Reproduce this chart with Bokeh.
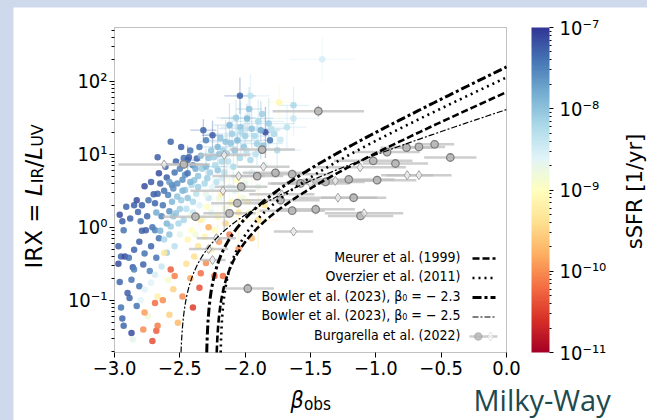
import numpy as np
from bokeh.plotting import figure
from bokeh.models import (ColumnDataSource, LogColorMapper, ColorBar, FixedTicker,
                          CustomJSTickFormatter, Label, Arrow, BoxAnnotation,
                          PolyAnnotation, Range1d)
from bokeh.layouts import column
from bokeh.embed import file_html
from bokeh.resources import INLINE

# ---------------- data ----------------
# colour-coded galaxies: beta_obs, log10 IRX, log10 sSFR
dark_beta = [-2.97, -2.96, -2.95, -2.94, -2.93, -2.92, -2.91, -2.90, -2.89, -2.93, -2.87, -2.885, -2.87, -2.86,
             -2.85, -2.85, -2.85, -2.83, -2.83, -2.82, -2.81, -2.81, -2.80, -2.79, -2.78, -2.77, -2.77, -2.76,
             -2.75, -2.74, -2.73, -2.72, -2.71, -2.70, -2.69, -2.69, -2.68, -2.67, -2.67, -2.66, -2.66, -2.65,
             -2.64, -2.63, -2.62, -2.61, -2.60, -2.59, -2.58, -2.57, -2.56, -2.55, -2.54, -2.53, -2.52, -2.50,
             -2.49, -2.48, -2.47, -2.46, -2.44, -2.44, -2.43, -2.42, -2.40, -2.37, -2.35, -2.32, -2.30, -2.25,
             -2.04, -1.81, -1.845, -2.96, -2.95, -2.97, -2.94, -2.88, -2.79, -2.72]
dark_logirx = [-0.26, 0.17, -0.40, 0.08, -0.04, -0.40, 0.28, -0.90, -0.42, -1.35, -1.45, -0.97, -0.72, -0.55,
               0.30, -0.31, -0.58, -1.08, 0.37, 0.21, -0.20, -0.81, 0.08, -0.05, -0.51, -0.36, 0.56, -0.04,
               0.15, 0.37, -0.60, -0.26, 0.00, 0.45, 0.33, -0.04, -0.42, 0.46, 0.96, 0.74, -0.15, 0.60,
               0.15, 0.30, 0.50, 0.83, 0.68, 0.44, 0.22, 1.17, 0.58, 0.53, 0.75, 0.90, 0.60, 0.80,
               1.10, 0.65, 0.95, 0.72, 0.92, 0.74, 0.96, 1.05, 0.85, 0.94, 1.10, 1.33, 1.19, 1.26,
               1.80, 1.19, 1.30, -0.75, -1.10, -0.50, -1.25, 0.12, 0.30, 0.62]
dark_logssfr = [-7.25, -7.15, -7.3, -7.25, -7.4, -7.15, -7.3, -7.25, -7.4, -7.3, -7.15, -7.3, -7.4, -7.25,
                -7.25, -7.3, -7.5, -7.4, -7.15, -7.3, -7.25, -7.4, -7.4, -7.3, -7.3, -7.4, -7.15, -7.25,
                -7.3, -7.4, -7.5, -7.3, -7.4, -7.25, -7.3, -7.5, -7.4, -7.3, -7.25, -7.15, -7.4, -7.3,
                -7.5, -7.4, -7.4, -7.3, -7.25, -7.5, -7.6, -7.3, -7.5, -7.6, -7.4, -7.3, -7.6, -7.5,
                -7.25, -7.6, -7.4, -7.6, -7.3, -7.4, -7.25, -7.4, -7.5, -7.3, -7.4, -7.3, -7.5, -7.25,
                -7.3, -7.4, -7.15, -7.3, -7.4, -7.15, -7.3, -7.25, -7.3, -7.25]

blue_beta = [-2.62, -2.57, -2.53, -2.49, -2.46, -2.41, -2.375, -2.54, -2.64, -2.60, -2.58, -2.51, -2.45, -2.40,
             -2.36, -2.33, -2.30, -2.28, -2.24, -2.21, -2.21, -2.18, -2.15, -2.14, -2.10, -2.09, -2.06, -2.035,
             -2.01, -1.985, -1.96, -1.96, -1.95, -1.91, -1.88, -1.82, -1.755, -1.68, -1.63, -1.63, -2.39, -2.29,
             -2.26, -2.12, -2.00, -1.92, -1.86, -1.78, -2.19, -2.08, -2.16, -2.04, -1.97, -2.07, -1.90, -1.73,
             -2.60, -2.56, -2.52, -2.50, -2.47, -2.44, -2.42, -2.38, -2.36, -2.34, -2.31, -2.27, -2.23, -2.20,
             -2.17, -2.13, -2.11, -2.03, -1.99, -1.93, -1.87, -1.80, -2.55, -2.65, -2.68, -2.58, -2.48, -2.40,
             -2.28, -2.22]
blue_logirx = [-0.17, 0.01, 0.19, 0.37, 0.51, 0.58, 0.46, -0.26, -0.54, -0.35, -0.10, 0.05, 0.25, 0.35,
               0.70, 0.80, 0.83, 0.95, 0.96, 0.78, 1.10, 0.90, 1.17, 1.01, 1.28, 0.83, 1.19, 1.37,
               1.10, 1.49, 0.92, 1.80, 1.35, 1.145, 1.33, 1.42, 1.055, 1.37, 1.49, 1.67, 0.645, 0.67,
               1.05, 1.40, 1.25, 1.00, 1.12, 1.28, 1.22, 1.05, 0.75, 0.95, 1.62, 1.50, 1.45, 1.20,
               0.05, 0.35, 0.42, 0.25, 0.10, 0.40, 0.62, 0.80, 0.55, 0.98, 0.60, 0.75, 0.85, 1.00,
               1.05, 0.90, 1.15, 1.30, 1.05, 1.25, 1.55, 1.35, 0.15, -0.05, 0.20, 0.62, 0.50, 0.20,
               0.40, 0.62]
blue_logssfr = [-8.2, -8.1, -8.0, -8.1, -8.0, -8.2, -8.3, -8.3, -8.4, -8.1, -8.0, -8.2, -8.3, -8.2,
                -8.0, -8.1, -7.9, -8.0, -8.1, -8.0, -7.9, -8.2, -8.0, -8.1, -8.1, -8.2, -7.9, -8.0,
                -8.0, -7.9, -8.2, -8.3, -8.0, -8.1, -7.8, -8.1, -8.2, -8.3, -8.4, -8.2, -8.0, -8.1,
                -8.0, -7.9, -8.1, -8.3, -8.0, -8.2, -8.0, -8.0, -8.3, -8.2, -8.0, -8.1, -8.2, -8.4,
                -7.9, -7.9, -8.0, -8.1, -8.2, -8.0, -7.9, -7.8, -8.1, -7.9, -8.2, -8.1, -8.2, -8.0,
                -8.1, -8.3, -8.0, -8.2, -8.3, -8.2, -8.1, -8.3, -8.0, -7.9, -7.8, -7.7, -7.9, -8.4,
                -8.4, -8.3]

pale_beta = [-2.72, -2.77, -2.86, -2.745, -2.80, -2.69, -2.18, -2.25, -2.30, -2.35, -2.20, -2.12, -2.05, -2.00,
             -1.95, -2.42, -2.10, -1.90, -1.85, -2.50, -2.32, -1.41, -2.26, -2.15, -2.08, -2.02, -2.38, -1.97]
pale_logirx = [-0.76, -0.855, -1.54, -1.22, -1.00, -0.65, 0.67, 0.55, 0.45, 0.30, 0.40, 0.55, 0.70, 0.60,
               0.75, 0.15, 0.35, 0.55, 0.85, -0.10, 0.12, 2.30, 0.20, 0.25, 0.50, 0.40, -0.10, 0.20]
pale_logssfr = [-8.6, -8.6, -8.7, -8.8, -8.6, -8.5, -8.5, -8.6, -8.7, -8.6, -8.8, -8.6, -8.5, -8.7,
                -8.6, -8.8, -8.9, -8.7, -8.6, -8.7, -8.8, -8.5, -8.7, -8.8, -8.6, -8.8, -8.8, -8.9]

cream_beta = [-2.59, -2.67, -2.62, -2.44, -2.41, -2.34, -2.36, -2.31, -2.39, -2.26, -2.235, -2.21, -2.29, -2.18,
              -2.11, -2.06, -1.74, -2.05, -1.98, -1.90, -1.85, -2.15, -2.45, -2.55]
cream_logirx = [-0.72, -0.95, -0.355, -0.17, -0.04, 0.10, -0.26, -0.13, -0.40, -0.31, -0.04, 0.145, 0.28, 0.46,
                0.33, 0.645, 1.71, 0.20, 0.35, 0.10, 0.30, 0.05, -0.50, -0.85]
cream_logssfr = [-8.9, -9.2, -9.3, -9.1, -9.0, -9.2, -9.3, -9.1, -9.4, -9.2, -9.0, -9.1, -9.0, -9.2,
                 -9.1, -9.0, -9.1, -9.3, -9.2, -9.4, -9.3, -9.5, -9.4, -9.5]

red_beta = [-2.57, -2.54, -2.63, -2.69, -2.68, -2.67, -2.71, -2.515, -2.35, -2.235, -2.17, -2.77, -2.58, -2.30,
            -2.48, -2.42, -2.78, -2.20, -2.12, -2.05, -2.28, -1.95, -2.40, -2.34]
red_logirx = [-0.58, -0.67, -1.00, -1.04, -1.42, -1.35, -1.56, -1.31, -0.83, -0.67, -0.67, -1.17, -1.20, -0.49,
              -0.95, -0.70, -1.40, -0.20, -0.10, -0.30, 0.00, -0.15, -1.10, -0.63]
red_logssfr = [-10.3, -10.1, -10.0, -10.2, -10.3, -10.1, -10.4, -9.7, -10.4, -10.3, -10.2, -9.9, -9.5, -10.0,
               -10.0, -9.8, -10.0, -9.9, -10.1, -10.0, -9.8, -9.7, -10.5, -10.2]

# error bars of the colour-coded galaxies
eb_beta = [-2.04, -1.96, -1.74, -1.63, -2.32, -2.25, -1.985, -2.035, -2.10, -1.95, -1.88, -1.82, -1.845, -1.68,
           -1.63, -2.15, -2.06, -1.91, -2.21, -1.755, -2.12, -1.97, -2.07, -1.90, -2.14, -2.00, -2.09, -2.18,
           -2.06, -2.12, -1.95, -2.25, -2.21, -2.05, -1.90, -2.35, -2.30, -2.44, -1.41]
eb_logirx = [1.80, 1.80, 1.71, 1.67, 1.33, 1.26, 1.49, 1.37, 1.28, 1.35, 1.33, 1.42, 1.30, 1.37,
             1.49, 1.17, 1.19, 1.145, 1.10, 1.055, 1.40, 1.62, 1.50, 1.45, 1.01, 1.25, 0.83, 0.67,
             0.645, 0.55, 0.75, 0.55, 0.145, 0.20, 0.10, 0.30, 0.83, 0.92, 2.30]
eb_dbeta = [0.12, 0.15, 0.10, 0.12, 0.10, 0.08, 0.20, 0.15, 0.20, 0.25, 0.15, 0.20, 0.04, 0.15,
            0.20, 0.20, 0.25, 0.20, 0.15, 0.18, 0.12, 0.10, 0.15, 0.20, 0.20, 0.25, 0.20, 0.20,
            0.18, 0.20, 0.22, 0.20, 0.15, 0.15, 0.15, 0.15, 0.15, 0.10, 0.25]
eb_dlog = [0.25, 0.30, 0.25, 0.25, 0.15, 0.20, 0.20, 0.35, 0.25, 0.30, 0.40, 0.35, 0.35, 0.30,
           0.25, 0.30, 0.35, 0.30, 0.30, 0.30, 0.30, 0.30, 0.25, 0.30, 0.30, 0.30, 0.30, 0.40,
           0.35, 0.40, 0.35, 0.40, 0.40, 0.40, 0.40, 0.30, 0.25, 0.20, 0.30]
eb_logssfr = [-7.3, -8.3, -9.1, -8.2, -7.3, -7.25, -7.9, -8.0, -8.1, -8.0, -7.8, -8.1, -7.15, -8.3,
              -8.4, -8.0, -7.9, -8.1, -7.9, -8.2, -7.9, -8.0, -8.1, -8.2, -8.1, -8.1, -8.2, -8.5,
              -9.0, -8.6, -8.6, -8.6, -9.1, -9.3, -9.4, -8.6, -7.9, -7.3, -8.5]

# Burgarella et al. (2022): circles and diamonds
gc_beta = [-1.768, -1.64, -1.908, -1.576, -1.46, -1.64, -1.73, -1.17, -1.117, -0.99, -1.207, -1.385, -1.02,
           -0.85, -0.43, -0.914, -0.55, -0.67, -0.765, -1.44, -1.87, -2.47, -2.06, -2.38, -2.12, -1.98, -2.03]
gc_logirx = [0.745, 0.727, 0.70, 0.60, 0.245, 0.226, 0.37, 0.404, 0.154, 0.645, 0.655, 0.62, 0.91,
             0.873, 0.955, 1.03, 1.136, 1.10, 1.09, 1.59, 1.064, 0.86, 0.33, 0.145, 0.19, -0.84, 0.555]
gc_dbeta = [0.25, 0.30, 0.20, 0.25, 0.30, 0.25, 0.30, 0.25, 0.25, 0.30, 0.35, 0.30, 0.30,
            0.25, 0.20, 0.25, 0.15, 0.20, 0.20, 0.35, 0.25, 0.15, 0.20, 0.25, 0.20, 0.20, 0.20]
gc_dlog = [0.06, 0.06, 0.05, 0.06, 0.07, 0.06, 0.06, 0.05, 0.06, 0.06, 0.05, 0.06, 0.05,
           0.05, 0.05, 0.05, 0.05, 0.05, 0.05, 0.08, 0.06, 0.06, 0.06, 0.06, 0.06, 0.07, 0.06]

gd_beta = [-0.76, -0.67, -1.29, -1.09, -1.63, -1.31, -1.12, -2.62, -2.16, -1.86, -2.17, -1.72, -2.05, -1.50,
           -2.28, -2.22, -2.25]
gd_logirx = [0.713, 0.713, 0.404, 0.19, -0.06, 0.635, 0.82, 0.86, 0.99, 0.83, 0.50, 0.45, 0.70, 0.60,
             -0.30, -0.15, -0.45]
gd_dbeta = [0.20, 0.25, 0.30, 0.30, 0.15, 0.30, 0.35, 0.35, 0.20, 0.20, 0.25, 0.25, 0.20, 0.30,
            0.15, 0.15, 0.10]
gd_dlog_lo = [0.05, 0.05, 0.05, 0.05, 0.05, 0.05, 0.05, 0.05, 1.05, 0.05, 0.05, 0.05, 0.05, 0.05,
              0.05, 0.05, 0.05]
gd_dlog_hi = [0.05, 0.05, 0.05, 0.05, 0.05, 0.05, 0.05, 0.05, 0.06, 0.05, 0.05, 0.05, 0.05, 0.05,
              0.05, 0.05, 0.05]

# IRX-beta relations: IRX = B * (10**(0.4*k*(beta - beta0)) - 1)
rel_names = ["Meurer et al. (1999)", "Overzier et al. (2011)",
             "Bowler et al. (2023), β₀ = − 2.3", "Bowler et al. (2023), β₀ = − 2.5"]
rel_beta0 = [-4.43 / 1.99, -4.54 / 2.07, -2.3, -2.5]
rel_k = [1.99, 2.07, 2.17, 1.43]
rel_B = [1.22, 1.75, 1.60, 1.58]

x_lo, x_hi = -3.0, 0.0
y_lo, y_hi = 0.0192, 545.0
x_ticks = [-3.0, -2.5, -2.0, -1.5, -1.0, -0.5, 0.0]
y_ticks = [0.1, 1.0, 10.0, 100.0]
cb_ticks = [1e-11, 1e-10, 1e-9, 1e-8, 1e-7]

# ---------------- geometry (page pixels) ----------------
PAGE_W, PAGE_H = 647, 420
X0, Y0 = 13, 7                    # white panel origin
PL, PR, PT, PB = 114, 506, 27, 352  # plotting box
W, H = PAGE_W - X0, PAGE_H - Y0

ppx = (PR - PL) / (x_hi - x_lo)
xr = Range1d(x_lo - (PL - X0) / ppx, x_hi + (PAGE_W - PR) / ppx)
Llo, Lhi = np.log10(y_lo), np.log10(y_hi)
ppy = (PB - PT) / (Lhi - Llo)
yr = Range1d(10 ** (Llo - (PAGE_H - PB) / ppy), 10 ** (Lhi + (PT - Y0) / ppy))

# ---------------- styles ----------------
FONT = "DejaVu Sans Condensed"
rdylbu = ["#a50026", "#d73027", "#f46d43", "#fdae61", "#fee090", "#ffffbf",
          "#e0f3f8", "#abd9e9", "#74add1", "#4575b4", "#313695"]


def interp_palette(cols, n=256):
    rgb = np.array([[int(c[i:i + 2], 16) for i in (1, 3, 5)] for c in cols], float)
    t = np.linspace(0, 1, len(cols))
    tt = np.linspace(0, 1, n)
    out = []
    for v in tt:
        r, g, b = (np.interp(v, t, rgb[:, j]) for j in range(3))
        out.append("#%02x%02x%02x" % (int(round(r)), int(round(g)), int(round(b))))
    return out


palette = interp_palette(rdylbu)
mapper = LogColorMapper(palette=palette, low=1e-11, high=1e-7)

p = figure(width=W, height=H, y_axis_type="log", x_range=xr, y_range=yr,
           output_backend="svg", toolbar_location=None, min_border=0,
           min_border_left=0, min_border_right=0, min_border_top=0, min_border_bottom=0)
p.margin = (Y0, 0, 0, X0)
p.title.visible = False
p.background_fill_color = "white"
p.border_fill_color = "white"
p.outline_line_color = None
p.grid.visible = False

log_fmt_code = """
const sup = {'-':'⁻','0':'⁰','1':'¹','2':'²','3':'³','4':'⁴','5':'⁵','6':'⁶','7':'⁷','8':'⁸','9':'⁹'};
const e = Math.round(Math.log10(tick));
return '10' + String(e).split('').map(c => sup[c]).join('');
"""

p.xaxis.fixed_location = y_lo
p.xaxis.bounds = (x_lo, x_hi)
p.yaxis.fixed_location = x_lo
p.yaxis.bounds = (y_lo, y_hi)
p.xaxis.ticker = FixedTicker(ticks=x_ticks)
p.xaxis.formatter = CustomJSTickFormatter(code="return tick.toFixed(1).replace('-', '\u2212');")
minor_y = [m * 10.0 ** e for e in range(-2, 3) for m in range(2, 10) if y_lo <= m * 10.0 ** e <= y_hi]
p.yaxis.ticker = FixedTicker(ticks=y_ticks, minor_ticks=minor_y)
p.yaxis.formatter = CustomJSTickFormatter(code=log_fmt_code)
for ax in (p.xaxis, p.yaxis):
    ax.axis_line_color = None
    ax.major_label_text_font = FONT
    ax.major_label_text_font_size = "20px"
    ax.major_label_text_color = "black"
    ax.major_tick_line_color = "black"
    ax.major_tick_in = 0
    ax.major_tick_out = 5
p.xaxis.minor_tick_line_color = None
p.xaxis.major_label_standoff = 3
p.yaxis.minor_tick_in = 0
p.yaxis.minor_tick_out = 3
p.yaxis.minor_tick_line_color = "black"
p.yaxis.major_label_standoff = 2

# ---- colour-coded galaxies ----
all_beta = np.array(dark_beta + blue_beta + pale_beta + cream_beta + red_beta)
all_logirx = np.array(dark_logirx + blue_logirx + pale_logirx + cream_logirx + red_logirx)
all_logssfr = np.array(dark_logssfr + blue_logssfr + pale_logssfr + cream_logssfr + red_logssfr)

eb_b = np.array(eb_beta)
eb_l = np.array(eb_logirx)
eb_db = np.array(eb_dbeta)
eb_dl = np.array(eb_dlog)
eb_src = ColumnDataSource(dict(
    x0=eb_b - eb_db, x1=eb_b + eb_db, yc=10 ** eb_l,
    xc=eb_b, y0=10 ** (eb_l - eb_dl), y1=10 ** (eb_l + eb_dl),
    ssfr=10 ** np.array(eb_logssfr)))
cmap_line = {"field": "ssfr", "transform": mapper}
p.segment("x0", "yc", "x1", "yc", source=eb_src, line_color=cmap_line, line_alpha=0.35, line_width=1.3)
p.segment("xc", "y0", "xc", "y1", source=eb_src, line_color=cmap_line, line_alpha=0.35, line_width=1.3)

src = ColumnDataSource(dict(beta=all_beta, irx=10 ** all_logirx, ssfr=10 ** all_logssfr))
p.scatter("beta", "irx", source=src, size=6.5, marker="circle",
          fill_color={"field": "ssfr", "transform": mapper}, line_color=None, fill_alpha=0.85)

# ---- Burgarella et al. (2022) ----
gcb = np.array(gc_beta); gcl = np.array(gc_logirx); gcdb = np.array(gc_dbeta); gcdl = np.array(gc_dlog)
gdb = np.array(gd_beta); gdl = np.array(gd_logirx); gddb = np.array(gd_dbeta)
gdlo = np.array(gd_dlog_lo); gdhi = np.array(gd_dlog_hi)
ERR = "#bdbdbd"
p.segment(np.concatenate([gcb - gcdb, gdb - gddb]), 10 ** np.concatenate([gcl, gdl]),
          np.concatenate([gcb + gcdb, gdb + gddb]), 10 ** np.concatenate([gcl, gdl]),
          line_color=ERR, line_alpha=0.75, line_width=2.5)
p.segment(np.concatenate([gcb, gdb]), 10 ** np.concatenate([gcl - gcdl, gdl - gdlo]),
          np.concatenate([gcb, gdb]), 10 ** np.concatenate([gcl + gcdl, gdl + gdhi]),
          line_color=ERR, line_alpha=0.75, line_width=1.5)
p.scatter(gcb, 10 ** gcl, marker="circle", size=7.5, fill_color="#b4b4b4", fill_alpha=0.8,
          line_color="#7f7f7f", line_width=1.3)
p.scatter(gdb, 10 ** gdl, marker="diamond", size=9, fill_color="white", fill_alpha=0.6,
          line_color="#a0a0a0", line_width=1.0)

# ---- relations (drawn from where they enter the plotting box) ----
styles = [dict(line_width=2.6, line_dash="7 3"),
          dict(line_width=2.6, line_dash="2 4"),
          dict(line_width=3.0, line_dash="9 3 3 3"),
          dict(line_width=1.2, line_dash="6 2 2 2")]
for b0, k, B, st in zip(rel_beta0, rel_k, rel_B, styles):
    b_start = b0 + np.log10(1 + y_lo / B) / (0.4 * k)
    bb = b_start + (x_hi - b_start) * np.geomspace(1e-4, 1.0, 600)
    bb = np.concatenate([[b_start], bb])
    irx = B * (10 ** (0.4 * k * (bb - b0)) - 1)
    p.line(bb, irx, line_color="black", **st)

# plotting-box outline
p.add_layout(BoxAnnotation(left=x_lo, right=x_hi, bottom=y_lo, top=y_hi, fill_alpha=0,
                           fill_color=None, line_color="#333333", line_width=1))

# ---- colour bar ----
minor_cb = [m * 10.0 ** e for e in range(-11, -7) for m in range(2, 10)]
cb = ColorBar(color_mapper=mapper, location=(531 - X0, PAGE_H - PB), width=18, height=PB - PT,
              padding=0, margin=0,
              ticker=FixedTicker(ticks=cb_ticks, minor_ticks=minor_cb),
              formatter=CustomJSTickFormatter(code=log_fmt_code),
              major_label_text_font=FONT, major_label_text_font_size="20px",
              major_label_text_color="black", label_standoff=6,
              major_tick_in=0, major_tick_out=4, major_tick_line_color="black",
              minor_tick_in=0, minor_tick_out=2, minor_tick_line_color="black",
              background_fill_color=None, border_line_color=None, bar_line_color=None)
p.add_layout(cb, "center")

# ---- texts (screen units: from canvas left / bottom) ----
FL, FB = X0, PAGE_H


def lab(text, X, Y, size, font="DejaVu Sans", style="normal", align="left", angle=0.0, color="black"):
    p.add_layout(Label(x=X - FL, y=FB - Y, x_units="screen", y_units="screen", text=text,
                       text_font=font, text_font_size=f"{size}px", text_font_style=style,
                       text_align=align, text_baseline="alphabetic", angle=angle, text_color=color))


# legend (markers on the right of the right-aligned texts)
leg_names = rel_names + ["Burgarella et al. (2022)"]
for i, name in enumerate(leg_names):
    yb = 256 + 19.5 * i
    yc = 258 + 19.5 * i
    lab(name, 460, yb, 14, font=FONT, align="right")
    if i < 4:
        st = styles[i]
        p.add_layout(Arrow(end=None, x_start=472 - FL, y_start=FB - yc, x_end=495 - FL, y_end=FB - yc,
                           start_units="screen", end_units="screen", line_color="black",
                           line_width=st["line_width"], line_dash=st["line_dash"]))
    else:
        p.add_layout(Arrow(end=None, x_start=469 - FL, y_start=FB - yc, x_end=497 - FL, y_end=FB - yc,
                           start_units="screen", end_units="screen", line_color=ERR,
                           line_alpha=0.75, line_width=2.5))
        p.add_layout(BoxAnnotation(left=474 - FL, right=481.5 - FL, bottom=FB - yc - 3.75, top=FB - yc + 3.75,
                                   left_units="screen", right_units="screen", top_units="screen",
                                   bottom_units="screen", fill_color="#b4b4b4", fill_alpha=0.8,
                                   line_color="#7f7f7f", line_width=1.3, border_radius=4))
        cx, cy = 490 - FL, FB - yc
        p.add_layout(PolyAnnotation(xs=[cx - 3, cx, cx + 3, cx], ys=[cy, cy + 4.5, cy, cy - 4.5],
                                    xs_units="screen", ys_units="screen", fill_color="white",
                                    fill_alpha=0.6, line_color="#a0a0a0", line_width=1.0))

# y-axis label (rotated, reading upward): IRX = L_IR / L_UV
Xb, Xs = 33, 37
Yc = 268.0
big, small = 23, 16
adv = {"IRX =": 3.149, "L": 0.557, "IR": 0.990, "/": 0.337, "UV": 1.416}
for txt, fs, st, xx in [("IRX =", big, "normal", Xb), ("L", big, "italic", Xb), ("IR", small, "normal", Xs),
                        ("/", big, "normal", Xb), ("L", big, "italic", Xb), ("UV", small, "normal", Xs)]:
    lab(txt, xx, Yc, fs, angle=np.pi / 2, style=st)
    Yc -= adv[txt] * fs

# x-axis label beta_obs
lab("β", 290, 399, 23, font=FONT, style="italic")
lab("obs", 303.5, 403, 17, font=FONT)

# colour-bar title
lab("sSFR [1/yr]", 634, 191, 21, angle=np.pi / 2, align="center")

# corner text
lab("Milky-Way", 473, 399, 29, font="Open Sans", color="#1d4a4e")

page = column(p, width=PAGE_W, height=PAGE_H, styles={"background-color": "#ced9eb"})
open("out.html", "w").write(file_html(page, INLINE))
